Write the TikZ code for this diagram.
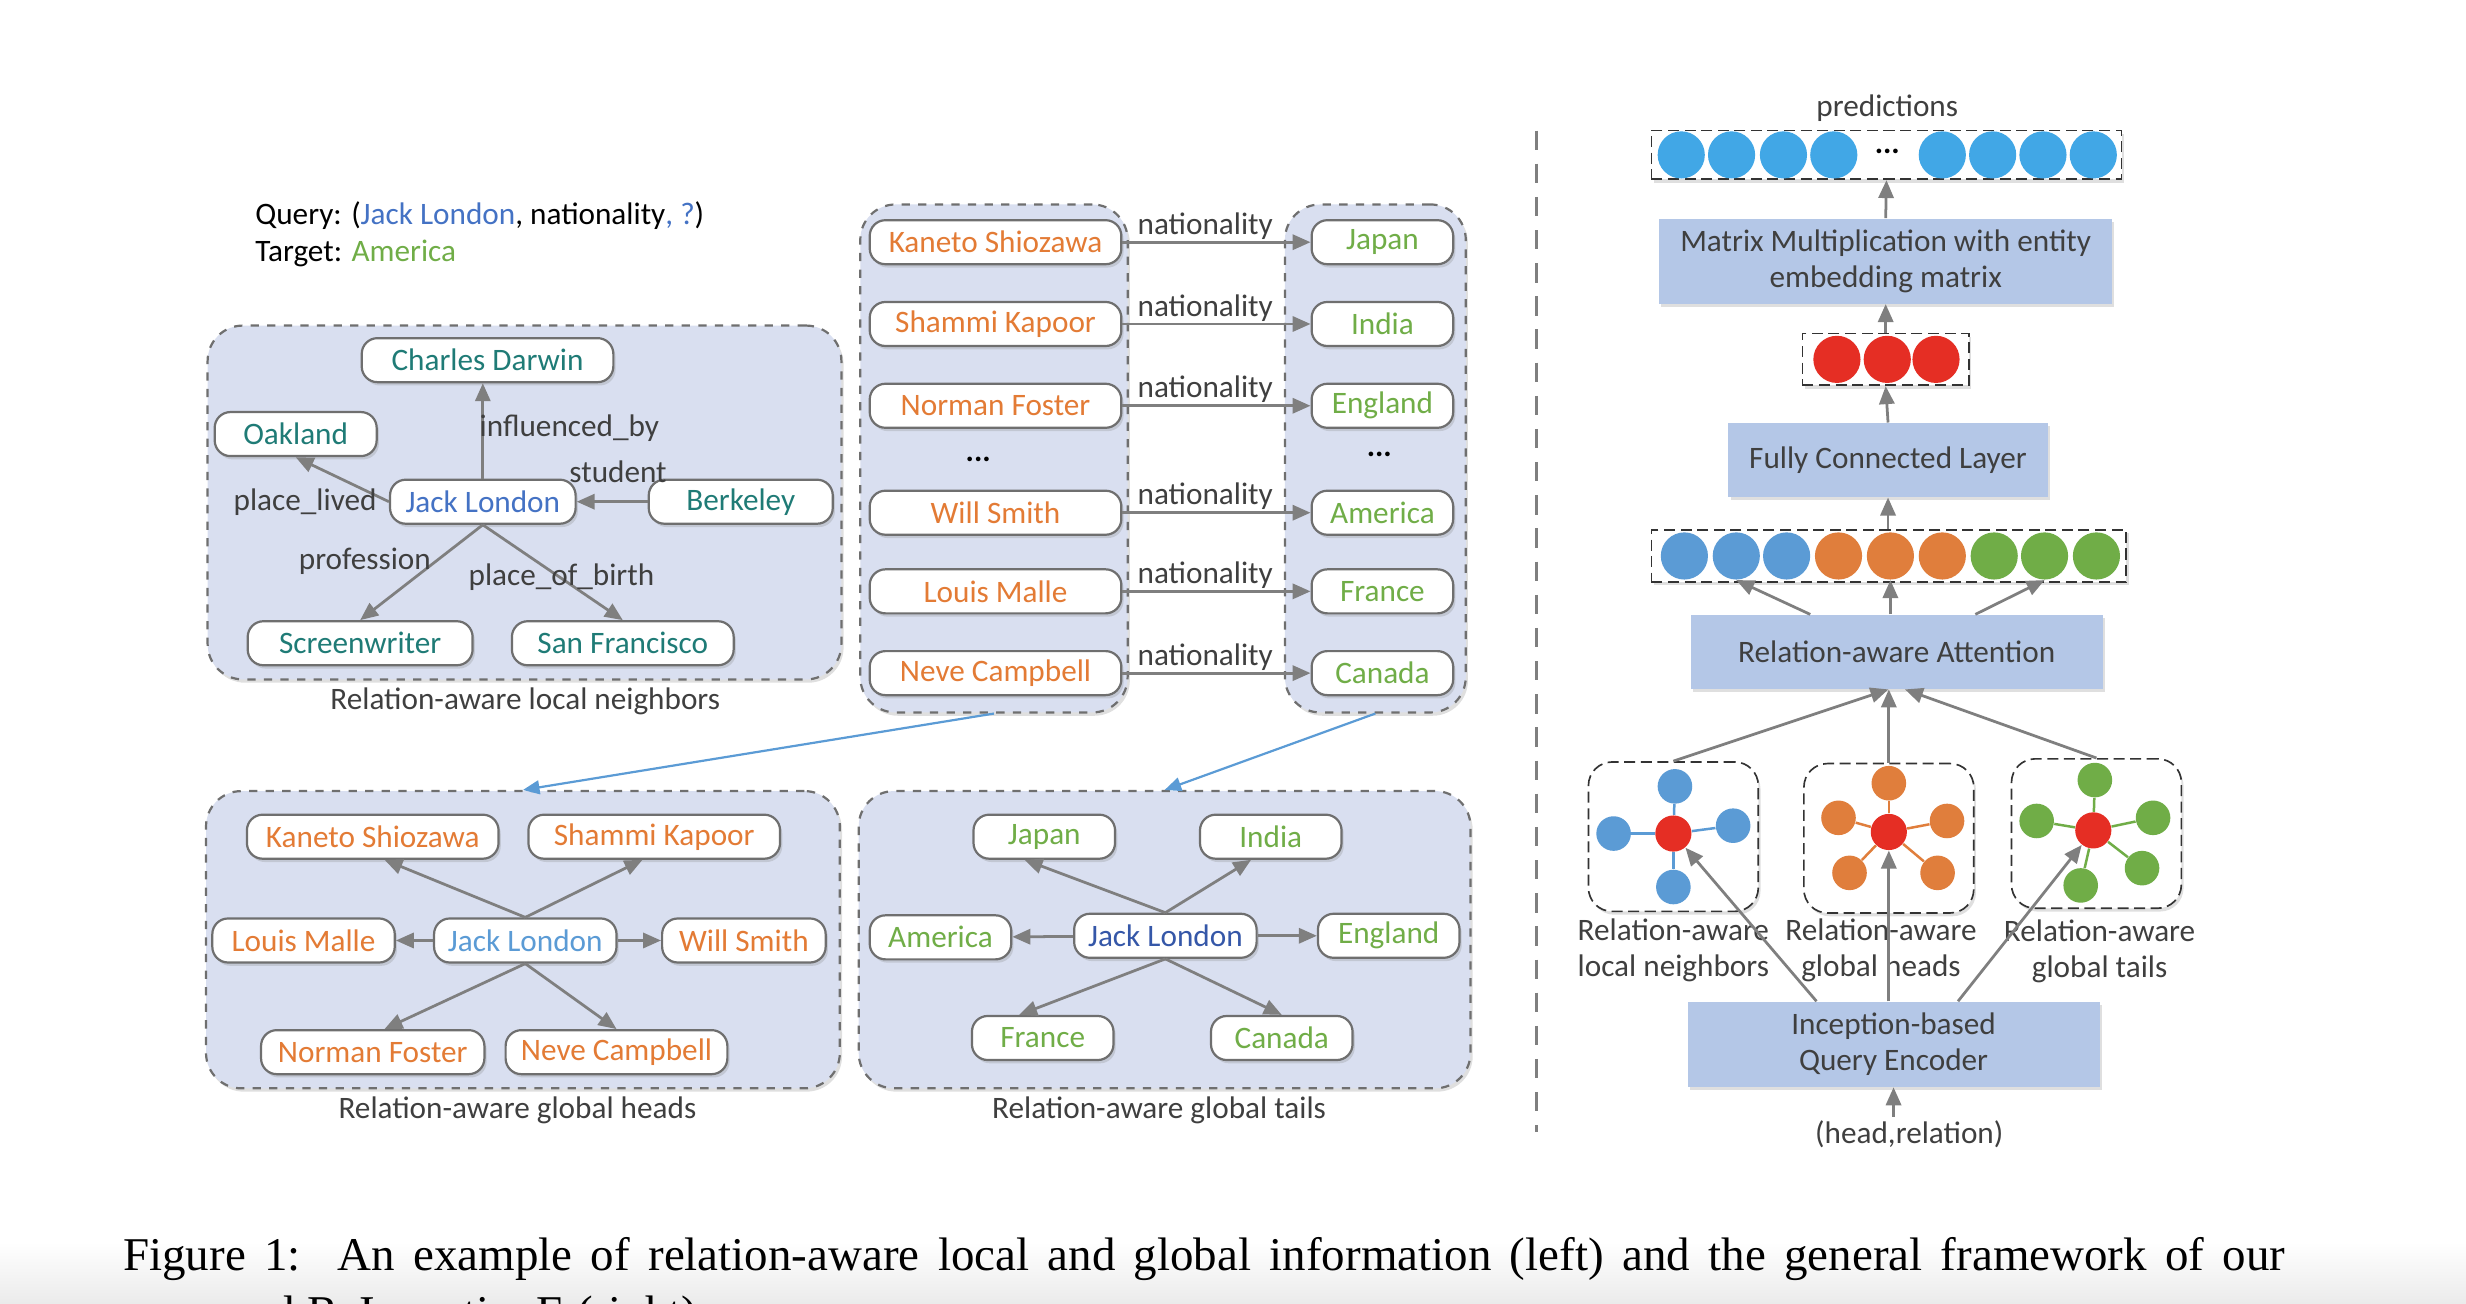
\documentclass[tikz,border=0pt]{standalone}
\usepackage{fontspec}
\setmainfont{Carlito}
\newfontfamily\capfont{Liberation Serif}
\usetikzlibrary{arrows.meta,shadows}
\definecolor{boxfill}{HTML}{D9DFF0}
\definecolor{entline}{HTML}{6F6F6F}
\definecolor{arrgray}{HTML}{7F7F7F}
\definecolor{labtext}{HTML}{3F3F3F}
\definecolor{teal}{HTML}{1F7B76}
\definecolor{jlblue}{HTML}{4472C4}
\definecolor{jllight}{HTML}{5B9BD5}
\definecolor{jldark}{HTML}{3557A8}
\definecolor{headorange}{HTML}{E37B35}
\definecolor{tailgreen}{HTML}{70AD47}
\definecolor{blockfill}{HTML}{B4C7E7}
\definecolor{predblue}{HTML}{41A7E6}
\definecolor{hubred}{HTML}{E52E24}
\definecolor{cblue}{HTML}{5B9BD5}
\definecolor{corange}{HTML}{E07E3C}
\definecolor{cgreen}{HTML}{70AD47}
\tikzset{
	wd/.style={minimum width=#1*0.02cm},
	ht/.style={minimum height=#1*0.02cm},
	shade1/.style={drop shadow={opacity=0.25,shadow xshift=0.8pt,shadow yshift=-1.2pt}},
	ent/.style={draw=entline, fill=white, rounded corners=0.2cm, minimum height=0.56cm, inner xsep=0.15cm, inner ysep=0pt, line width=0.8pt, shade1},
	group/.style={draw=entline, dashed, fill=boxfill, rounded corners=0.45cm, line width=0.8pt, shade1},
	blk/.style={fill=blockfill, text=labtext, align=center, inner sep=0pt, shade1},
	vecbox/.style={draw=black!80, dash pattern=on 4pt off 2pt, fill=white, line width=0.6pt, inner sep=0pt, shade1},
	graphbox/.style={draw=black!80, dash pattern=on 4pt off 2pt, fill=white, rounded corners=0.3cm, line width=0.6pt, wd=108, ht=95, shade1},
	ball/.style={circle, minimum size=0.6cm, inner sep=0pt},
	leaf/.style={circle, minimum size=0.44cm, inner sep=0pt},
	hub/.style={circle, fill=hubred, minimum size=0.46cm, inner sep=0pt},
	link/.style={draw=arrgray, line width=1pt, -{Triangle[width=5.5pt,length=6.5pt]}},
	bluelink/.style={draw=cblue, line width=0.8pt, -{Triangle[width=5pt,length=6pt]}},
	rel/.style={text=labtext, inner sep=0.5pt},
}
\begin{document}
\begin{tikzpicture}[x=0.02cm, y=-0.02cm, font=\fontsize{11.3}{13}\selectfont]
	\useasboundingbox (0,0) rectangle (1568,829);
	\shade[top color=white, bottom color=black!8] (0,790) rectangle (1568,829);
	% query
	\node[anchor=west, inner sep=0pt] (query) at (162,137) {Query: (\textcolor{jlblue}{Jack London}, nationality\textcolor{jlblue}{, ?})};
	\node[anchor=west, inner sep=0pt] (target) at (162,161) {Target: \textcolor{tailgreen}{America}};
	% groups
	\node[group, wd=403, ht=225] (loc) at (333.5,319.5) {};
	\node[group, wd=170, ht=323] (headcol) at (632,291.5) {};
	\node[group, wd=115, ht=323] (tailcol) at (874.5,291.5) {};
	\node[group, wd=403, ht=189] (gheads) at (332.5,597.5) {};
	\node[group, wd=389, ht=189] (gtails) at (740.5,597.5) {};
	\node[text=labtext] at (334,446) {Relation-aware local neighbors};
	\node[text=labtext] at (329,706) {Relation-aware global heads};
	\node[text=labtext] at (737,706) {Relation-aware global tails};
	% local neighbors
	\node[ent, text=teal, wd=160] (darwin) at (310,229) {Charles Darwin};
	\node[ent, text=teal, wd=103] (oak) at (188,276) {Oakland};
	\node[ent, text=jlblue, wd=118] (jl1) at (307,319) {Jack London};
	\node[ent, text=teal, wd=117] (berk) at (471,319) {Berkeley};
	\node[ent, text=teal, wd=143] (scr) at (229,409) {Screenwriter};
	\node[ent, text=teal, wd=141] (sf) at (396,409) {San Francisco};
	\draw[link] (jl1.north) -- (jl1.north |- darwin.south);
	\draw[link] (jl1.west) -- (oak.south);
	\draw[link] (berk) -- (jl1);
	\draw[link] (jl1.south) -- (scr.north);
	\draw[link] (jl1.south) -- (sf.north);
	\node[rel] at (362,272) {influenced\_by};
	\node[rel] at (393,300) {student};
	\node[rel] at (194,319) {place\_lived};
	\node[rel] at (232,357) {profession};
	\node[rel] at (357,367) {place\_of\_birth};
	% nationality pairs
	\foreach \i/\y/\h/\t in {1/154/Kaneto Shiozawa/Japan, 2/206/Shammi Kapoor/India, 3/258/Norman Foster/England, 4/326/Will Smith/America, 5/376/Louis Malle/France, 6/428/Neve Campbell/Canada} {
		\node[ent, text=headorange, wd=160] (h\i) at (633,\y) {\h};
		\node[ent, text=tailgreen, wd=90] (t\i) at (879,\y) {\t};
		\draw[link] (h\i) -- node[rel, above, pos=0.44] {nationality} (t\i);
	}
	\node (hdots) at (622,292) {\textbf{...}};
	\node (tdots) at (877,289) {\textbf{...}};
	\draw[bluelink] (headcol.south) -- (gheads.north);
	\draw[bluelink] (tailcol.south) -- (gtails.north);
	% global heads
	\node[ent, text=headorange, wd=160] (ks) at (237,532) {Kaneto Shiozawa};
	\node[ent, text=headorange, wd=160] (sk) at (416,532) {Shammi Kapoor};
	\node[ent, text=headorange, wd=116] (lm) at (193,598) {Louis Malle};
	\node[ent, text=jllight, wd=116] (jl2) at (334,598) {Jack London};
	\node[ent, text=headorange, wd=104] (ws) at (473,598) {Will Smith};
	\node[ent, text=headorange, wd=142] (nf) at (237,669) {Norman Foster};
	\node[ent, text=headorange, wd=141] (nc) at (392,669) {Neve Campbell};
	\draw[link] (jl2.north) -- ([xshift=0.15cm]ks.south);
	\draw[link] (jl2.north) -- ([xshift=-0.15cm]sk.south);
	\draw[link] (jl2) -- (lm);
	\draw[link] (jl2) -- (ws);
	\draw[link] (jl2.south) -- ([xshift=0.15cm]nf.north);
	\draw[link] (jl2.south) -- (nc.north);
	% global tails
	\node[ent, text=tailgreen, wd=90] (jp) at (664,532) {Japan};
	\node[ent, text=tailgreen, wd=90] (in) at (808,532) {India};
	\node[ent, text=tailgreen, wd=90] (am) at (598,596) {America};
	\node[ent, text=jldark, wd=116] (jl3) at (741,595) {Jack London};
	\node[ent, text=tailgreen, wd=90] (en) at (883,595) {England};
	\node[ent, text=tailgreen, wd=90] (fr) at (663,660) {France};
	\node[ent, text=tailgreen, wd=90] (ca) at (815,660) {Canada};
	\draw[link] (jl3.north) -- ([xshift=-0.25cm]jp.south);
	\draw[link] (jl3.north) -- ([xshift=-0.25cm]in.south);
	\draw[link] (jl3) -- (am);
	\draw[link] (jl3) -- (en);
	\draw[link] (jl3.south) -- ([xshift=-0.3cm]fr.north);
	\draw[link] (jl3.south) -- (ca.north);
	% separator
	\draw[arrgray, line width=1.2pt, dash pattern=on 7pt off 5pt] (977,83) -- (977,720);
	% framework
	\node[text=labtext] (predlab) at (1200,69) {predictions};
	\node[vecbox, wd=299, ht=31] (predbox) at (1199.5,98.5) {};
	\foreach \x [count=\i] in {1069,1101,1134,1166,1235,1267,1299,1331}
		\node[ball, fill=predblue] (p\i) at (\x,98.5) {};
	\node (pdots) at (1200,96) {\textbf{...}};
	\node[blk, wd=288, ht=54] (mat) at (1199,166) {Matrix Multiplication with entity\\embedding matrix};
	\node[vecbox, wd=106, ht=33] (redbox) at (1199,228.5) {};
	\foreach \x [count=\i] in {1168,1200,1231}
		\node[ball, fill=hubred] (q\i) at (\x,228.5) {};
	\node[blk, wd=203, ht=47] (fc) at (1200.5,292.5) {Fully Connected Layer};
	\node[vecbox, wd=302, ht=33] (concat) at (1201,353.5) {};
	\foreach \x/\c [count=\i] in {1071/cblue,1104/cblue,1136/cblue,1169/corange,1202/corange,1235/corange,1268/cgreen,1300/cgreen,1333/cgreen}
		\node[ball, fill=\c] (c\i) at (\x,353.5) {};
	\node[blk, wd=262, ht=47] (att) at (1206,414.5) {Relation-aware Attention};
	\draw[link] (mat.north) -- (predbox.south);
	\draw[link] (redbox.north) -- (mat.south);
	\draw[link] (fc.north) -- (redbox.south);
	\draw[link] (concat.north -| fc.north) -- (fc.south);
	\draw[link] ([xshift=-1.1cm]att.north) -- (c2.south);
	\draw[link] (att.north -| c5) -- (c5.south);
	\draw[link] ([xshift=1cm]att.north) -- (c8.south);
	% relation-aware graphs
	\node[graphbox] (g1) at (1064,532) {};
	\node[graphbox] (g2) at (1201,533) {};
	\node[graphbox] (g3) at (1333,530) {};
	\begin{scope}[shift={(g1.center)}]
		\node[hub] (r1) at (0,-2) {};
		\foreach \dx/\dy [count=\k] in {1/-32,-38/-2,38/-7,0/32} {
			\node[leaf, fill=cblue] (b\k) at (\dx,\dy) {};
			\draw[cblue, line width=0.9pt] (r1) -- (b\k);
		}
	\end{scope}
	\begin{scope}[shift={(g2.center)}]
		\node[hub] (r2) at (0,-4) {};
		\foreach \dx/\dy [count=\k] in {0/-35,-32/-13,37/-11,-25/22,31/22} {
			\node[leaf, fill=corange] (o\k) at (\dx,\dy) {};
			\draw[corange, line width=0.9pt] (r2) -- (o\k);
		}
	\end{scope}
	\begin{scope}[shift={(g3.center)}]
		\node[hub] (r3) at (-2,-2) {};
		\foreach \dx/\dy [count=\k] in {-1/-34,-38/-8,36/-10,-10/33,29/22} {
			\node[leaf, fill=cgreen] (e\k) at (\dx,\dy) {};
			\draw[cgreen, line width=0.9pt] (r3) -- (e\k);
		}
	\end{scope}
	\node[text=labtext, align=center] (gl1) at (1064,604) {Relation-aware\\local neighbors};
	\node[text=labtext, align=center] (gl2) at (1196,604) {Relation-aware\\global heads};
	\node[text=labtext, align=center] (gl3) at (1335,605) {Relation-aware\\global tails};
	\draw[link] (g1.north) -- ([xshift=-3pt]att.south);
	\draw[link] (g2.north) -- (g2.north |- att.south);
	\draw[link] (g3.north) -- ([xshift=3pt]att.south);
	\node[blk, wd=262, ht=54] (enc) at (1204,664) {Inception-based\\Query Encoder};
	\draw[link] ([xshift=-0.98cm]enc.north) -- (r1);
	\draw[link] (enc.north -| r2) -- (r2);
	\draw[link] ([xshift=0.82cm]enc.north) -- (r3);
	\node[text=labtext] (hr) at (1214,721) {(head,relation)};
	\coordinate (inp) at (1204,710);
	\draw[link] (inp) -- (enc.south);
	% caption
	\node[anchor=base west, inner sep=0pt] (cap1) at (78,808) {\capfont\fontsize{17}{20}\selectfont\makebox[27.5cm][s]{Figure 1:\ \ An example of relation-aware local and global information (left) and the general framework of our}};
	\node[anchor=base west, inner sep=0pt] (cap2) at (78,845) {\capfont\fontsize{17}{20}\selectfont proposed ReInceptionE (right).};
\end{tikzpicture}
\end{document}
